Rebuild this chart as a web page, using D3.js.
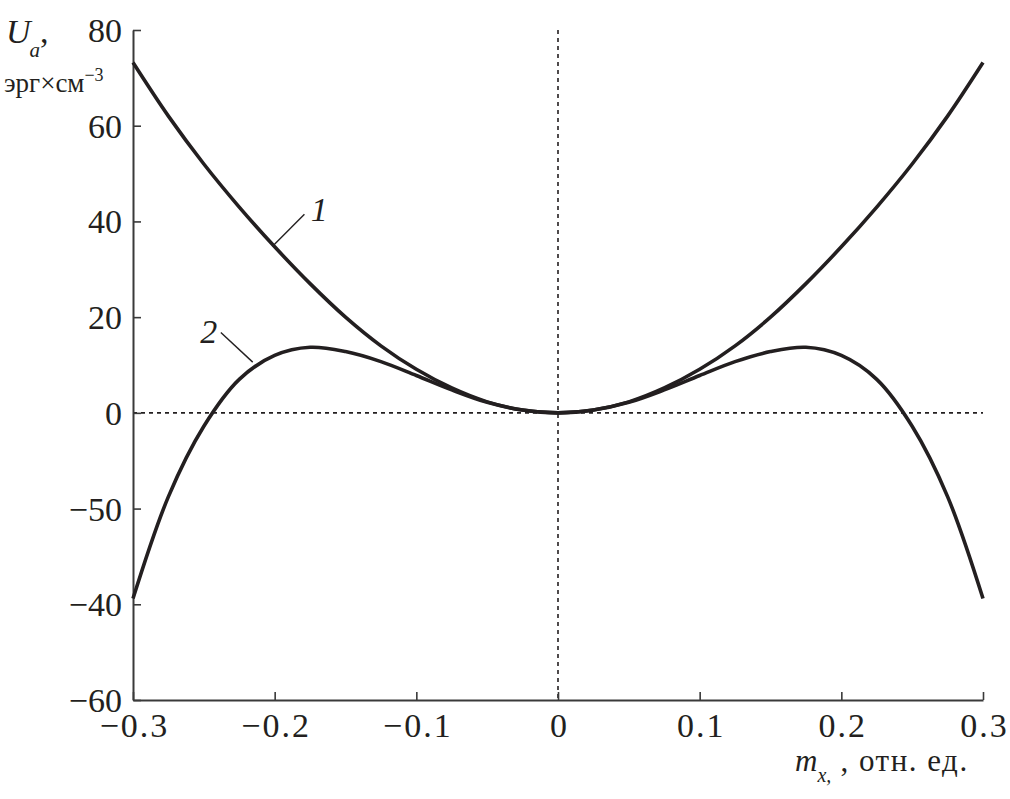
<!DOCTYPE html>
<html><head><meta charset="utf-8">
<script src="https://cdn.jsdelivr.net/npm/d3@7"></script>
<style>
html,body{margin:0;padding:0;background:#fff;}
</style></head>
<body>
<script>
// ---- data ----
const mx = [-0.3,-0.275,-0.25,-0.225,-0.2,-0.175,-0.15,-0.125,-0.1,-0.075,-0.05,-0.025,0,
            0.025,0.05,0.075,0.1,0.125,0.15,0.175,0.2,0.225,0.25,0.275,0.3];
const curve1 = [73.2,62.0,52.0,43.0,34.7,27.0,20.0,14.0,9.1,5.2,2.3,0.6,0,
                0.6,2.3,5.2,9.1,14.0,20.0,27.0,34.7,43.0,52.0,62.0,73.2];
const curve2 = [-38.8,-17.5,-2.8,7.0,12.0,13.7,12.8,10.7,7.8,4.8,2.2,0.58,0,
                0.58,2.2,4.8,7.8,10.7,12.8,13.7,12.0,7.0,-2.8,-17.5,-38.8];
const xTicks = [-0.3,-0.2,-0.1,0,0.1,0.2,0.3];
const xTickLabels = ["\u22120.3","\u22120.2","\u22120.1","0","0.1","0.2","0.3"];
const yTicks = [-60,-40,-20,0,20,40,60,80];
const yTickLabels = ["\u221260","\u221240","\u221250","0","20","40","60","80"];
const curveLabels = ["1","2"];

const W = 1010, H = 799;
const ink = "#231f20";
const FONT = "'Liberation Serif', 'Tinos', 'Times New Roman', 'DejaVu Serif', serif";
const svg = d3.select("body").append("svg").attr("width",W).attr("height",H)
  .style("font-family",FONT);

const x = d3.scaleLinear().domain([-0.3,0.3]).range([133,983]);
const y = d3.scaleLinear().domain([-60,80]).range([700,30]);

// dashed zero lines
svg.append("line").attr("x1",x(-0.3)).attr("x2",x(0.3)).attr("y1",y(0)).attr("y2",y(0))
  .attr("stroke",ink).attr("stroke-width",1.6).attr("stroke-dasharray","4,4");
svg.append("line").attr("x1",x(0)).attr("x2",x(0)).attr("y1",y(80)).attr("y2",y(-60))
  .attr("stroke",ink).attr("stroke-width",1.6).attr("stroke-dasharray","4,4");

// axes
const xAxis = d3.axisBottom(x).tickValues(xTicks).tickSizeInner(-8).tickSizeOuter(0)
  .tickFormat((d,i)=>xTickLabels[i]);
const gx = svg.append("g").attr("transform",`translate(0,${y(-60)})`).call(xAxis);
const yAxis = d3.axisLeft(y).tickValues(yTicks).tickSizeInner(-8).tickSizeOuter(0)
  .tickFormat((d,i)=>yTickLabels[i]).tickPadding(11);
const gy = svg.append("g").attr("transform",`translate(${x(-0.3)},0)`).call(yAxis);
[gx,gy].forEach(g=>{
  g.attr("font-family",null);
  g.select(".domain").attr("stroke","#3a3a3a").attr("stroke-width",2);
  g.selectAll(".tick line").attr("stroke","#3a3a3a").attr("stroke-width",1.6);
  g.selectAll(".tick text").attr("font-size",34).attr("fill",ink).style("font-family",FONT);
});
gx.selectAll(".tick text").attr("y",37).attr("dy",null).style("letter-spacing","2px")
  .attr("dx",1);
gy.selectAll(".tick text").attr("dy","0.34em");

// curves
const line = d3.line().x(d=>x(d[0])).y(d=>y(d[1])).curve(d3.curveCatmullRom.alpha(0.5));
[curve1,curve2].forEach(c=>{
  svg.append("path").datum(mx.map((m,i)=>[m,c[i]])).attr("d",line)
    .attr("fill","none").attr("stroke",ink).attr("stroke-width",3.6);
});

// curve labels with leader lines
const lab = [
  {t:curveLabels[0], from:[-0.2015,34.8], to:[-0.179,41.5], tx:-0.1745, ty:40.0},
  {t:curveLabels[1], from:[-0.2155,10.6], to:[-0.238,16.8], tx:-0.2525, ty:14.6}
];
lab.forEach(l=>{
  svg.append("line").attr("x1",x(l.from[0])).attr("y1",y(l.from[1]))
    .attr("x2",x(l.to[0])).attr("y2",y(l.to[1])).attr("stroke",ink).attr("stroke-width",1.4);
  svg.append("text").attr("x",x(l.tx)).attr("y",y(l.ty)).attr("font-size",34)
    .attr("font-style","italic").attr("fill",ink).text(l.t);
});

// y axis title
const yt = svg.append("text").attr("x",6).attr("y",43).attr("font-size",34).attr("fill",ink);
yt.append("tspan").attr("font-style","italic").text("U");
yt.append("tspan").attr("font-style","italic").attr("font-size",21).attr("dy",14).attr("dx",-1).text("a");
yt.append("tspan").attr("dy",-14).text(",");
const yu = svg.append("text").attr("x",4).attr("y",92).attr("font-size",27).attr("fill",ink);
yu.append("tspan").text("эрг×см");
yu.append("tspan").attr("font-size",18).attr("dy",-11).text("\u22123");

// x axis title
const xt = svg.append("text").attr("x",795).attr("y",771).attr("font-size",31).attr("fill",ink);
xt.append("tspan").attr("font-style","italic").text("m");
xt.append("tspan").attr("font-style","italic").attr("font-size",20).attr("dy",11).text("x,");
xt.append("tspan").attr("dy",-11).style("letter-spacing","1.5px").text(" , отн. ед.");
</script>
</body></html>
